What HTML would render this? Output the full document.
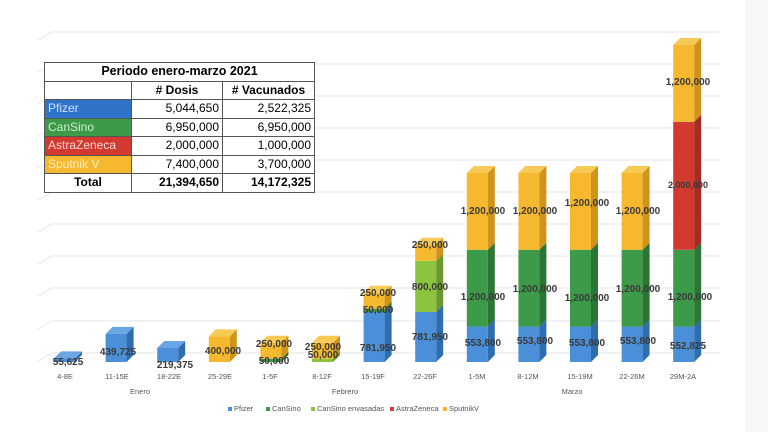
<!DOCTYPE html>
<html><head><meta charset="utf-8"><style>
body{margin:0;width:768px;height:432px;background:#fff;overflow:hidden;font-family:"Liberation Sans",sans-serif}
svg{position:absolute;left:0;top:0}
.tb{position:absolute;left:44px;top:62px;border-collapse:collapse;font-size:12px;font-family:"Liberation Sans",sans-serif;background:#fff}
.tb td{border:1px solid #555;height:17.5px;padding:0 3px;line-height:17px}
.r{text-align:right}
</style></head><body>
<svg width="768" height="432" viewBox="0 0 768 432">
<rect x="745" y="0" width="23" height="432" fill="#f7f7f7"/>
<g stroke="#e6e6e6" stroke-width="1" fill="none">
<path d="M38 40 L52 32 H720"/><path d="M38 72 L52 64 H720"/><path d="M38 104 L52 96 H720"/><path d="M38 136 L52 128 H720"/><path d="M38 168 L52 160 H720"/><path d="M38 200 L52 192 H720"/><path d="M38 232 L52 224 H720"/><path d="M38 264 L52 256 H720"/><path d="M38 296 L52 288 H720"/><path d="M38 329 L52 321 H720"/><path d="M38 361 L52 353 H720"/>
</g>
<g>
<rect x="54" y="358.4" width="21" height="3.6" fill="#4a8fd8"/><polygon points="75,362 75,358.4 82,351.4 82,355" fill="#2e6db0"/><polygon points="54,358.4 75,358.4 82,351.4 61,351.4" fill="#6aa6e4"/>
<rect x="105.6" y="333.9" width="21" height="28.1" fill="#4a8fd8"/><polygon points="126.6,362 126.6,333.9 133.6,326.9 133.6,355" fill="#2e6db0"/><polygon points="105.6,333.9 126.6,333.9 133.6,326.9 112.6,326.9" fill="#6aa6e4"/>
<rect x="157.2" y="348" width="21" height="14" fill="#4a8fd8"/><polygon points="178.2,362 178.2,348 185.2,341 185.2,355" fill="#2e6db0"/><polygon points="157.2,348 178.2,348 185.2,341 164.2,341" fill="#6aa6e4"/>
<rect x="208.8" y="336.4" width="21" height="25.6" fill="#f5b82e"/><polygon points="229.8,362 229.8,336.4 236.8,329.4 236.8,355" fill="#cf9419"/><polygon points="208.8,336.4 229.8,336.4 236.8,329.4 215.8,329.4" fill="#f7c955"/>
<rect x="260.4" y="358.8" width="21" height="3.2" fill="#3d9a48"/><polygon points="281.4,362 281.4,358.8 288.4,351.8 288.4,355" fill="#2b7535"/>
<rect x="260.4" y="342.8" width="21" height="16" fill="#f5b82e"/><polygon points="281.4,358.8 281.4,342.8 288.4,335.8 288.4,351.8" fill="#cf9419"/><polygon points="260.4,342.8 281.4,342.8 288.4,335.8 267.4,335.8" fill="#f7c955"/>
<rect x="312" y="358.8" width="21" height="3.2" fill="#8cc43f"/><polygon points="333,362 333,358.8 340,351.8 340,355" fill="#6a9a2c"/>
<rect x="312" y="342.8" width="21" height="16" fill="#f5b82e"/><polygon points="333,358.8 333,342.8 340,335.8 340,351.8" fill="#cf9419"/><polygon points="312,342.8 333,342.8 340,335.8 319,335.8" fill="#f7c955"/>
<rect x="363.6" y="312" width="21" height="50" fill="#4a8fd8"/><polygon points="384.6,362 384.6,312 391.6,305 391.6,355" fill="#2e6db0"/>
<rect x="363.6" y="308.8" width="21" height="3.2" fill="#3d9a48"/><polygon points="384.6,312 384.6,308.8 391.6,301.8 391.6,305" fill="#2b7535"/>
<rect x="363.6" y="292.8" width="21" height="16" fill="#f5b82e"/><polygon points="384.6,308.8 384.6,292.8 391.6,285.8 391.6,301.8" fill="#cf9419"/><polygon points="363.6,292.8 384.6,292.8 391.6,285.8 370.6,285.8" fill="#f7c955"/>
<rect x="415.2" y="312" width="21" height="50" fill="#4a8fd8"/><polygon points="436.2,362 436.2,312 443.2,305 443.2,355" fill="#2e6db0"/>
<rect x="415.2" y="260.8" width="21" height="51.2" fill="#8cc43f"/><polygon points="436.2,312 436.2,260.8 443.2,253.8 443.2,305" fill="#6a9a2c"/>
<rect x="415.2" y="244.8" width="21" height="16" fill="#f5b82e"/><polygon points="436.2,260.8 436.2,244.8 443.2,237.8 443.2,253.8" fill="#cf9419"/><polygon points="415.2,244.8 436.2,244.8 443.2,237.8 422.2,237.8" fill="#f7c955"/>
<g id="m1">
<rect x="466.8" y="326.6" width="21" height="35.4" fill="#4a8fd8"/><polygon points="487.8,362 487.8,326.6 494.8,319.6 494.8,355" fill="#2e6db0"/>
<rect x="466.8" y="249.8" width="21" height="76.8" fill="#3d9a48"/><polygon points="487.8,326.6 487.8,249.8 494.8,242.8 494.8,319.6" fill="#2b7535"/>
<rect x="466.8" y="173" width="21" height="76.8" fill="#f5b82e"/><polygon points="487.8,249.8 487.8,173 494.8,166 494.8,242.8" fill="#cf9419"/><polygon points="466.8,173 487.8,173 494.8,166 473.8,166" fill="#f7c955"/>
</g>
<use href="#m1" transform="translate(51.6,0)"/>
<use href="#m1" transform="translate(103.2,0)"/>
<use href="#m1" transform="translate(154.8,0)"/>
<rect x="673.2" y="326.6" width="21" height="35.4" fill="#4a8fd8"/><polygon points="694.2,362 694.2,326.6 701.2,319.6 701.2,355" fill="#2e6db0"/>
<rect x="673.2" y="249.8" width="21" height="76.8" fill="#3d9a48"/><polygon points="694.2,326.6 694.2,249.8 701.2,242.8 701.2,319.6" fill="#2b7535"/>
<rect x="673.2" y="121.8" width="21" height="128" fill="#d23a2f"/><polygon points="694.2,249.8 694.2,121.8 701.2,114.8 701.2,242.8" fill="#a52a22"/>
<rect x="673.2" y="45" width="21" height="76.8" fill="#f5b82e"/><polygon points="694.2,121.8 694.2,45 701.2,38 701.2,114.8" fill="#cf9419"/><polygon points="673.2,45 694.2,45 701.2,38 680.2,38" fill="#f7c955"/>
</g>
<g font-family="Liberation Sans,sans-serif" font-size="10" font-weight="bold" fill="#3a3a3a" text-anchor="middle">
<text x="68" y="365">55,625</text>
<text x="118" y="355">439,725</text>
<text x="175" y="368">219,375</text>
<text x="223" y="354">400,000</text>
<text x="274" y="347">250,000</text><text x="274" y="364">50,000</text>
<text x="323" y="350">250,000</text><text x="323" y="358">50,000</text>
<text x="378" y="296">250,000</text><text x="378" y="313">50,000</text><text x="378" y="351">781,950</text>
<text x="430" y="248">250,000</text><text x="430" y="290">800,000</text><text x="430" y="340">781,950</text>
<text x="483" y="214">1,200,000</text><text x="483" y="300">1,200,000</text><text x="483" y="346">553,800</text>
<text x="535" y="214">1,200,000</text><text x="535" y="292">1,200,000</text><text x="535" y="344">553,800</text>
<text x="587" y="206">1,200,000</text><text x="587" y="301">1,200,000</text><text x="587" y="346">553,800</text>
<text x="638" y="214">1,200,000</text><text x="638" y="292">1,200,000</text><text x="638" y="344">553,800</text>
<text x="688" y="85">1,200,000</text><text x="688" y="188" font-size="9">2,000,000</text><text x="690" y="300">1,200,000</text><text x="688" y="349">552,825</text>
</g>
<g font-family="Liberation Sans,sans-serif" font-size="7.5" fill="#555" text-anchor="middle">
<text x="65" y="379">4-8E</text><text x="117" y="379">11-15E</text><text x="169" y="379">18-22E</text><text x="220" y="379">25-29E</text><text x="270" y="379">1-5F</text><text x="322" y="379">8-12F</text><text x="373" y="379">15-19F</text><text x="425" y="379">22-26F</text><text x="477" y="379">1-5M</text><text x="528" y="379">8-12M</text><text x="580" y="379">15-19M</text><text x="632" y="379">22-26M</text><text x="683" y="379">29M-2A</text>
<text x="140" y="394">Enero</text><text x="345" y="394">Febrero</text><text x="572" y="394">Marzo</text>
</g>
<g font-family="Liberation Sans,sans-serif" font-size="7.5" fill="#555">
<rect x="228" y="407" width="4" height="4" fill="#4a8fd8"/><text x="234" y="411">Pfizer</text>
<rect x="266" y="407" width="4" height="4" fill="#3d9a48"/><text x="272" y="411">CanSino</text>
<rect x="311" y="407" width="4" height="4" fill="#8cc43f"/><text x="317" y="411">CanSino envasadas</text>
<rect x="390" y="407" width="4" height="4" fill="#d23a2f"/><text x="396" y="411">AstraZeneca</text>
<rect x="443" y="407" width="4" height="4" fill="#f5b82e"/><text x="449" y="411">SputnikV</text>
</g>
</svg>
<table class="tb">
<tr><td colspan="3" style="text-align:center;font-weight:bold;width:262px;font-size:12.5px">Periodo enero-marzo 2021</td></tr>
<tr><td style="width:80px"></td><td style="text-align:center;font-weight:bold;width:84px"># Dosis</td><td style="text-align:center;font-weight:bold;width:85px"># Vacunados</td></tr>
<tr><td style="background:#2f74c8;color:#cfe3ff">Pfizer</td><td class="r">5,044,650</td><td class="r">2,522,325</td></tr>
<tr><td style="background:#3d9a48;color:#c8f0cc">CanSino</td><td class="r">6,950,000</td><td class="r">6,950,000</td></tr>
<tr><td style="background:#d23a2f;color:#ffd8d4">AstraZeneca</td><td class="r">2,000,000</td><td class="r">1,000,000</td></tr>
<tr><td style="background:#f5b82e;color:#fff0c0">Sputnik V</td><td class="r">7,400,000</td><td class="r">3,700,000</td></tr>
<tr><td style="text-align:center;font-weight:bold">Total</td><td class="r" style="font-weight:bold">21,394,650</td><td class="r" style="font-weight:bold">14,172,325</td></tr>
</table>
</body></html>
